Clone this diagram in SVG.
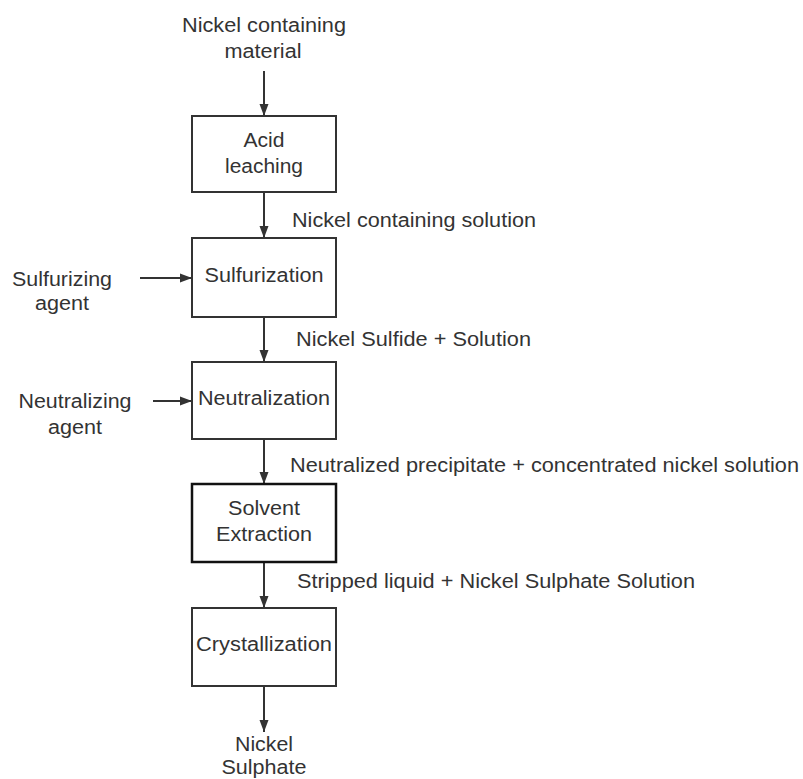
<svg xmlns="http://www.w3.org/2000/svg" width="803" height="779" viewBox="0 0 803 779">
<style>
text{font-family:"Liberation Sans",Arial,sans-serif;font-size:20px;fill:#333333}
.c{text-anchor:middle}
.box{fill:#ffffff;stroke:#333333;stroke-width:2}
.box2{fill:#ffffff;stroke:#111111;stroke-width:2.5}
.ln{stroke:#333333;stroke-width:2;fill:none;marker-end:url(#ah)}
</style>
<defs>
<marker id="ah" viewBox="0 0 12 10" refX="12" refY="5" markerWidth="12" markerHeight="10" markerUnits="userSpaceOnUse" orient="auto">
<path d="M0,0.5 L12,5 L0,9.5 Z" fill="#333333"/>
</marker>
</defs>
<rect width="803" height="779" fill="#ffffff"/>
<g id="connectors">
<line class="ln" x1="264" y1="71" x2="264" y2="116"/>
<line class="ln" x1="264" y1="192" x2="264" y2="238"/>
<line class="ln" x1="264" y1="317" x2="264" y2="362"/>
<line class="ln" x1="264" y1="439" x2="264" y2="484"/>
<line class="ln" x1="264" y1="562" x2="264" y2="608"/>
<line class="ln" x1="264" y1="686" x2="264" y2="732"/>
<line class="ln" x1="140" y1="278" x2="192" y2="278"/>
<line class="ln" x1="153" y1="401" x2="192" y2="401"/>
<text x="292" y="227" textLength="244" lengthAdjust="spacingAndGlyphs">Nickel containing solution</text>
<text x="296" y="346" textLength="235" lengthAdjust="spacingAndGlyphs">Nickel Sulfide + Solution</text>
<text x="290" y="472" textLength="509" lengthAdjust="spacingAndGlyphs">Neutralized precipitate + concentrated nickel solution</text>
<text x="297" y="588" textLength="398" lengthAdjust="spacingAndGlyphs">Stripped liquid + Nickel Sulphate Solution</text>
</g>
<g id="input-material">
<text class="c" x="264" y="32" textLength="164" lengthAdjust="spacingAndGlyphs">Nickel containing</text>
<text class="c" x="263" y="58" textLength="77" lengthAdjust="spacingAndGlyphs">material</text>
</g>
<g id="acid-leaching">
<rect class="box" x="192" y="116" width="144" height="76"/>
<text class="c" x="264" y="147" textLength="41" lengthAdjust="spacingAndGlyphs">Acid</text>
<text class="c" x="264" y="173" textLength="78" lengthAdjust="spacingAndGlyphs">leaching</text>
</g>
<g id="sulfurizing-agent">
<text class="c" x="62" y="286" textLength="100" lengthAdjust="spacingAndGlyphs">Sulfurizing</text>
<text class="c" x="62" y="310" textLength="54" lengthAdjust="spacingAndGlyphs">agent</text>
</g>
<g id="sulfurization">
<rect class="box" x="192" y="238" width="144" height="79"/>
<text class="c" x="264" y="282" textLength="119" lengthAdjust="spacingAndGlyphs">Sulfurization</text>
</g>
<g id="neutralizing-agent">
<text class="c" x="75" y="408" textLength="113" lengthAdjust="spacingAndGlyphs">Neutralizing</text>
<text class="c" x="75" y="434" textLength="54" lengthAdjust="spacingAndGlyphs">agent</text>
</g>
<g id="neutralization">
<rect class="box" x="192" y="362" width="144" height="77"/>
<text class="c" x="264" y="405" textLength="132" lengthAdjust="spacingAndGlyphs">Neutralization</text>
</g>
<g id="solvent-extraction">
<rect class="box2" x="192" y="484" width="144" height="78"/>
<text class="c" x="264" y="515" textLength="72" lengthAdjust="spacingAndGlyphs">Solvent</text>
<text class="c" x="264" y="541" textLength="96" lengthAdjust="spacingAndGlyphs">Extraction</text>
</g>
<g id="crystallization">
<rect class="box" x="192" y="608" width="144" height="78"/>
<text class="c" x="264" y="651" textLength="136" lengthAdjust="spacingAndGlyphs">Crystallization</text>
</g>
<g id="output-sulphate">
<text class="c" x="264" y="751" textLength="58" lengthAdjust="spacingAndGlyphs">Nickel</text>
<text class="c" x="264" y="774" textLength="85" lengthAdjust="spacingAndGlyphs">Sulphate</text>
</g>
</svg>
